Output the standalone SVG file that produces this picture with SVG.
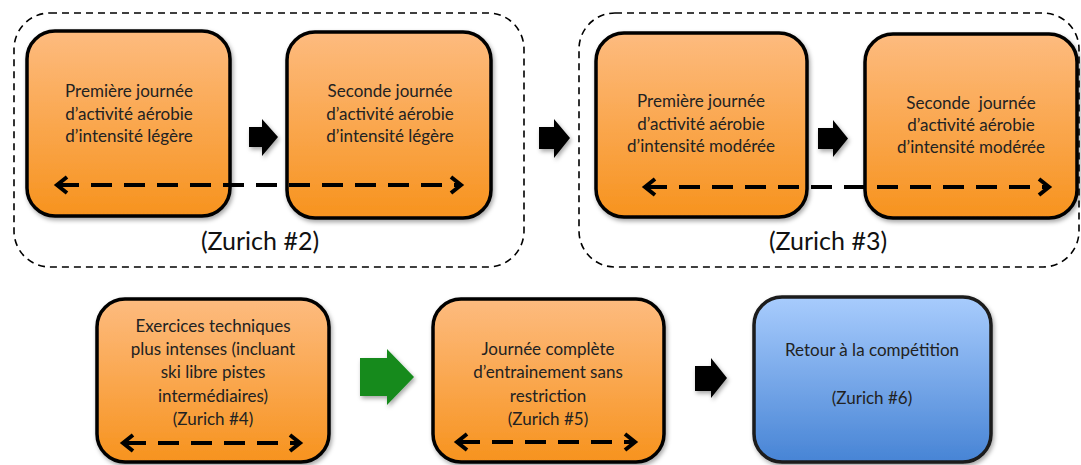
<svg xmlns="http://www.w3.org/2000/svg" width="1081" height="465" viewBox="0 0 1081 465">
<defs>
<linearGradient id="og" x1="0" y1="0" x2="0" y2="1">
<stop offset="0" stop-color="#FDBB7F"/>
<stop offset="1" stop-color="#F7931E"/>
</linearGradient>
<linearGradient id="bg" x1="0" y1="0" x2="0" y2="1">
<stop offset="0" stop-color="#A8CCFD"/>
<stop offset="1" stop-color="#4784D5"/>
</linearGradient>
<filter id="sh" x="-20%" y="-20%" width="140%" height="140%">
<feDropShadow dx="1.5" dy="2.5" stdDeviation="2" flood-color="#000" flood-opacity="0.35"/>
</filter>
</defs>
<style>
.grp{fill:none;stroke:#000;stroke-width:1.6;stroke-dasharray:7 5}
.ob{fill:url(#og);stroke:#000;stroke-width:3.5;filter:url(#sh)}
.bb{fill:url(#bg);stroke:#1a1a1a;stroke-width:3.5;filter:url(#sh)}
.t{font-family:Lato,"Liberation Sans",sans-serif;font-size:17px;fill:#222;text-anchor:middle}
.lbl{font-family:Lato,"Liberation Sans",sans-serif;font-size:25px;fill:#111;text-anchor:middle}
.dl{fill:none;stroke:#000;stroke-width:4;stroke-dasharray:21 12}
.ch{fill:none;stroke:#000;stroke-width:4;stroke-linejoin:miter}
.ba{fill:#000;filter:url(#sh)}
.ga{fill:#138A1B;filter:url(#sh)}
</style>

<g id="group-zurich2">
<rect class="grp" x="14" y="13" width="510" height="254" rx="36"/>
<text class="lbl" x="260" y="250">(Zurich #2)</text>
</g>
<g id="group-zurich3">
<rect class="grp" x="579" y="13" width="500" height="254" rx="36"/>
<text class="lbl" x="828" y="250">(Zurich #3)</text>
</g>

<g id="node-premiere-legere">
<rect class="ob" x="27" y="31" width="203" height="185" rx="28"/>
<text class="t" x="129"><tspan x="129" y="97">Première journée</tspan><tspan x="129" y="120">d’activité aérobie</tspan><tspan x="129" y="142">d’intensité légère</tspan></text>
</g>
<g id="node-seconde-legere">
<rect class="ob" x="287" y="32" width="204" height="186" rx="28"/>
<text class="t" x="390"><tspan x="390" y="97">Seconde journée</tspan><tspan x="390" y="120">d’activité aérobie</tspan><tspan x="390" y="142">d’intensité légère</tspan></text>
</g>
<g id="node-premiere-moderee">
<rect class="ob" x="596" y="33" width="211" height="184" rx="28"/>
<text class="t" x="701"><tspan x="701" y="107">Première journée</tspan><tspan x="701" y="130">d’activité aérobie</tspan><tspan x="701" y="152">d’intensité modérée</tspan></text>
</g>
<g id="node-seconde-moderee">
<rect class="ob" x="865" y="34" width="212" height="184" rx="28"/>
<text class="t" x="971" xml:space="preserve"><tspan x="971" y="109">Seconde  journée</tspan><tspan x="971" y="131">d’activité aérobie</tspan><tspan x="971" y="153">d’intensité modérée</tspan></text>
</g>
<g id="node-exercices">
<rect class="ob" x="97" y="299" width="232" height="163" rx="28"/>
<text class="t" x="213"><tspan x="213" y="332">Exercices techniques</tspan><tspan x="213" y="355">plus intenses (incluant</tspan><tspan x="213" y="378">ski libre pistes</tspan><tspan x="213" y="402">intermédiaires)</tspan><tspan x="213" y="425">(Zurich #4)</tspan></text>
</g>
<g id="node-journee-complete">
<rect class="ob" x="433" y="299" width="231" height="163" rx="28"/>
<text class="t" x="548"><tspan x="548" y="355">Journée complète</tspan><tspan x="548" y="378">d’entrainement sans</tspan><tspan x="548" y="402">restriction</tspan><tspan x="548" y="425">(Zurich #5)</tspan></text>
</g>
<g id="node-retour">
<rect class="bb" x="754" y="297" width="237" height="165" rx="28"/>
<text class="t" x="872"><tspan x="872" y="356">Retour à la compétition</tspan><tspan x="872" y="404">(Zurich #6)</tspan></text>
</g>

<g id="connectors">
<path class="ba" d="M249,127 H262 V119 L278,137 L262,156 V147 H249 Z"/>
<path class="ba" d="M539,127 H554 V119 L570,138 L554,158 V149 H539 Z"/>
<path class="ba" d="M818,128 H833 V120 L848,138.5 L833,157 V149 H818 Z"/>
<path class="ga" d="M360,358 H387 V349 L414,377 L387,405 V396 H360 Z"/>
<path class="ba" d="M695,366 H711 V358 L727,378 L711,398 V391 H695 Z"/>

<path class="dl" d="M58,185 H458"/>
<polyline class="ch" points="67,177 57,185 67,193"/>
<polyline class="ch" points="451,177 461,185 451,193"/>

<path class="dl" d="M646,187 H1046"/>
<polyline class="ch" points="655,179 645,187 655,195"/>
<polyline class="ch" points="1039,179 1049,187 1039,195"/>

<path class="dl" d="M125,443 H297"/>
<polyline class="ch" points="133,435 123,443 133,451"/>
<polyline class="ch" points="290,435 300,443 290,451"/>

<path class="dl" d="M459,442 H632"/>
<polyline class="ch" points="467,434 457,442 467,450"/>
<polyline class="ch" points="625,434 635,442 625,450"/>
</g>
</svg>
